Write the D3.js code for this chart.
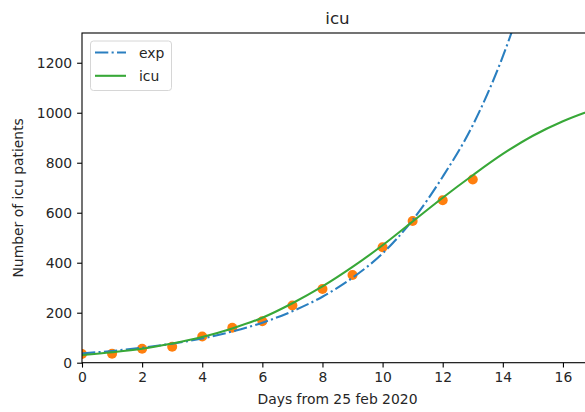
<!DOCTYPE html>
<html lang="en">
    <head>
        <meta charset="utf-8">
        <title>icu</title>
        <style type="text/css">
            body { margin: 0; background: #fff; }
            text { font-family: "DejaVu Sans", sans-serif; fill: #262626; }
            text.tick { font-size: 13.9px; }
            text.AxisTitle { font-size: 13.9px; }
            text.title { font-size: 16.7px; }
            text.legendText { font-size: 13.9px; }
        </style>
    </head>
    <body>
        <script type="text/javascript" src="https://cdnjs.cloudflare.com/ajax/libs/d3/7.8.5/d3.min.js"></script>
        <script type="text/javascript">

          // observed icu patients, day 0 = 25 feb 2020
          const days = [0, 1, 2, 3, 4, 5, 6, 7, 8, 9, 10, 11, 12, 13];
          const icu = [35, 36, 56, 64, 105, 140, 166, 229, 295, 351, 462, 567, 650, 733];

          // exponential fit
          const expDays = [0, 1, 2, 3, 4, 5, 6, 7, 8, 9, 10, 11, 12, 13, 14, 15];
          const expValues = [37, 47, 60, 76, 97, 125, 160, 206, 264, 340, 437, 571, 744, 950, 1225, 1580];

          // logistic fit
          const fitDays = [0, 1, 2, 3, 4, 5, 6, 7, 8, 9, 10, 11, 12, 13, 14, 15, 16, 17];
          const fitValues = [31, 42, 56, 77, 103, 137, 180, 238, 305, 383, 470, 565, 660, 750, 835, 908, 966, 1012];

          const xTicks = [0, 2, 4, 6, 8, 10, 12, 14, 16];
          const yTicks = [0, 200, 400, 600, 800, 1000, 1200];

          const width = 585, height = 412;
          const plotLeft = 82, plotRight = 593, plotTop = 33, plotBottom = 362.7;

          var svg = d3.select("body")
                      .append("svg")
                      .attr("width", width)
                      .attr("height", height);

          var xScale = d3.scaleLinear().domain([0, 17]).range([plotLeft, plotRight]);
          var yScale = d3.scaleLinear().domain([0, 1319]).range([plotBottom, plotTop]);

          // clip everything to the axes box
          svg.append("clipPath")
             .attr("id", "plotArea")
             .append("rect")
             .attr("x", plotLeft)
             .attr("y", plotTop)
             .attr("width", plotRight - plotLeft)
             .attr("height", plotBottom - plotTop);

          var plot = svg.append("g").attr("clip-path", "url(#plotArea)");

          // data points
          plot.selectAll("circle")
              .data(days)
              .enter()
              .append("circle")
              .attr("cx", function (d) { return xScale(d); })
              .attr("cy", function (d, i) { return yScale(icu[i]); })
              .attr("r", 5)
              .attr("fill", "#ff7f0e");

          var line = d3.line()
                       .x(function (d) { return xScale(d[0]); })
                       .y(function (d) { return yScale(d[1]); })
                       .curve(d3.curveMonotoneX);

          // exp curve
          plot.append("path")
              .datum(d3.zip(expDays, expValues))
              .attr("d", line)
              .attr("fill", "none")
              .attr("stroke", "#2a7fc0")
              .attr("stroke-width", 2.1)
              .attr("stroke-dasharray", "13.3,3.3,2.1,3.3");

          // logistic curve
          plot.append("path")
              .datum(d3.zip(fitDays, fitValues))
              .attr("d", line)
              .attr("fill", "none")
              .attr("stroke", "#38a838")
              .attr("stroke-width", 2.1);

          // x-axis
          var xAxis = d3.axisBottom(xScale)
                        .tickValues(xTicks)
                        .tickSize(4.9)
                        .tickPadding(4.9)
                        .tickFormat(d3.format("d"));

          var gx = svg.append("g")
                      .attr("transform", "translate(0," + plotBottom + ")")
                      .call(xAxis);

          // y-axis
          var yAxis = d3.axisLeft(yScale)
                        .tickValues(yTicks)
                        .tickSize(4.9)
                        .tickPadding(4.9)
                        .tickFormat(d3.format("d"));

          var gy = svg.append("g")
                      .attr("transform", "translate(" + plotLeft + ",0)")
                      .call(yAxis);

          [gx, gy].forEach(function (g) {
            g.select(".domain").remove();
            g.selectAll(".tick line").attr("stroke", "#000").attr("stroke-width", 1.1);
            g.selectAll(".tick text")
             .attr("class", "tick")
             .attr("fill", "#262626")
             .style("font-family", "DejaVu Sans")
             .style("font-size", "13.9px");
          });

          // spines
          svg.append("rect")
             .attr("x", plotLeft)
             .attr("y", plotTop)
             .attr("width", plotRight - plotLeft)
             .attr("height", plotBottom - plotTop)
             .attr("fill", "none")
             .attr("stroke", "#000")
             .attr("stroke-width", 1.1);

          // title
          svg.append("text")
             .attr("class", "title")
             .attr("x", (plotLeft + plotRight) / 2)
             .attr("y", 24)
             .attr("text-anchor", "middle")
             .text("icu");

          // x-axis title
          svg.append("text")
             .attr("class", "AxisTitle")
             .attr("x", (plotLeft + plotRight) / 2)
             .attr("y", 404)
             .attr("text-anchor", "middle")
             .text("Days from 25 feb 2020");

          // y-axis title
          svg.append("text")
             .attr("class", "AxisTitle")
             .attr("x", -(plotTop + plotBottom) / 2)
             .attr("y", 23)
             .attr("transform", "rotate(-90)")
             .attr("text-anchor", "middle")
             .text("Number of icu patients");

          // legend
          var legend = svg.append("g");

          legend.append("rect")
                .attr("x", 90.5)
                .attr("y", 41)
                .attr("width", 81)
                .attr("height", 49.5)
                .attr("rx", 3)
                .attr("fill", "#fff")
                .attr("fill-opacity", 0.8)
                .attr("stroke", "#d6d6d6")
                .attr("stroke-width", 1);

          const legendNames = ["exp", "icu"];
          const legendColors = ["#2a7fc0", "#38a838"];
          const legendDash = ["13.3,3.3,2.1,3.3", null];

          legendNames.forEach(function (name, i) {
            var ly = 52.5 + i * 23.3;
            legend.append("line")
                  .attr("x1", 95)
                  .attr("x2", 126)
                  .attr("y1", ly)
                  .attr("y2", ly)
                  .attr("stroke", legendColors[i])
                  .attr("stroke-width", 2.1)
                  .attr("stroke-dasharray", legendDash[i]);
            legend.append("text")
                  .attr("class", "legendText")
                  .attr("x", 139)
                  .attr("y", ly + 5)
                  .text(name);
          });
        </script>
    </body>
</html>
